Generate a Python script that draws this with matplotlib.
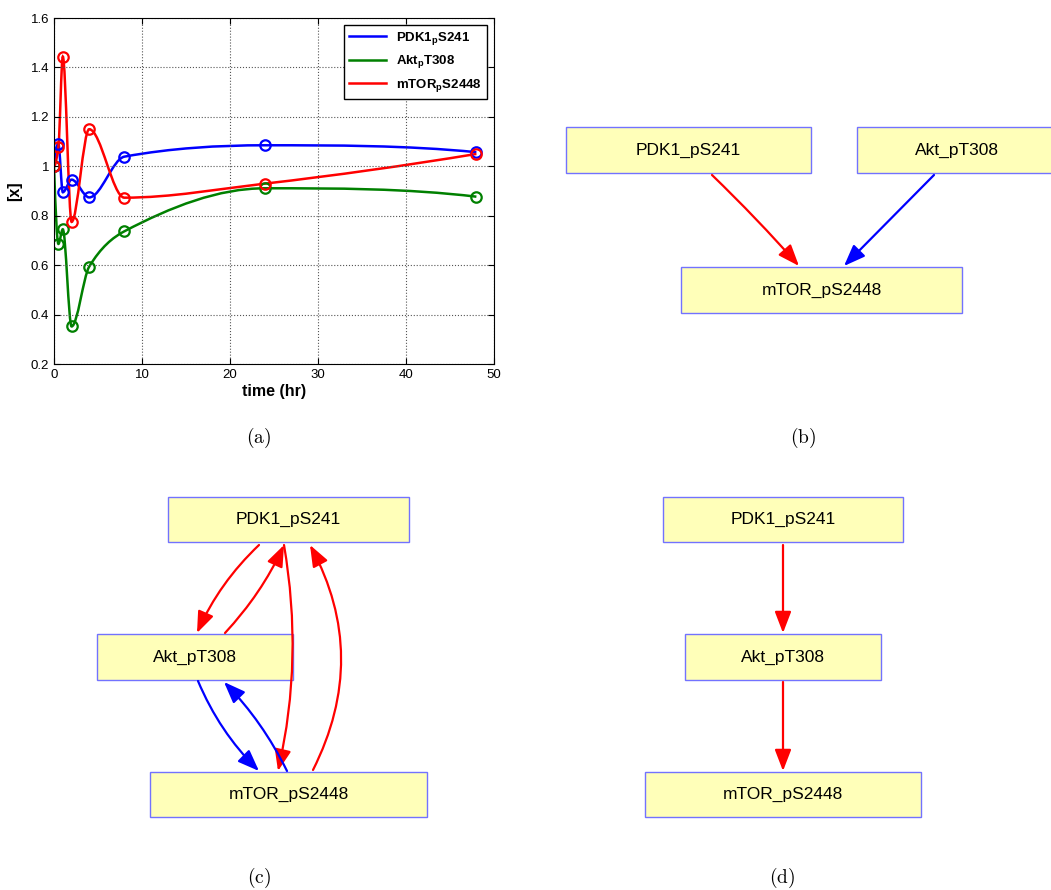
import numpy as np
import matplotlib
matplotlib.use("Agg")
import matplotlib.pyplot as plt
from matplotlib.path import Path
from matplotlib.patches import PathPatch, Rectangle, FancyArrowPatch
from matplotlib.lines import Line2D
from matplotlib.ticker import FormatStrFormatter

# --- data ---
time_hr = [0, 0.5, 1, 2, 4, 8, 24, 48]
pdk1 = [1.0, 1.09, 0.895, 0.946, 0.874, 1.039, 1.085, 1.057]
akt = [1.0, 0.686, 0.745, 0.352, 0.594, 0.737, 0.911, 0.877]
mtor = [1.0, 1.078, 1.444, 0.775, 1.150, 0.873, 0.930, 1.050]
series_labels = [r"$\mathbf{PDK1_pS241}$", r"$\mathbf{Akt_pT308}$", r"$\mathbf{mTOR_pS2448}$"]
series_colors = ["#0000ff", "#008000", "#ff0000"]

node_names = ["PDK1_pS241", "Akt_pT308", "mTOR_pS2448"]
# edges: (source, target, colour)
edges_b = [(0, 2, "red"), (1, 2, "blue")]
edges_c = [(0, 1, "red"), (1, 0, "red"), (0, 2, "red"), (2, 0, "red"), (1, 2, "blue"), (2, 1, "blue")]
edges_d = [(0, 1, "red"), (1, 2, "red")]
captions = ["(a)", "(b)", "(c)", "(d)"]

# --- layout (pixel coordinates, y down) ---
W, H = 1051, 890
boxes_b = {0: (566, 127, 811, 173), 1: (857, 127, 1057, 173), 2: (681, 267, 962, 313)}
boxes_c = {0: (168, 497, 409, 542), 1: (97, 634, 293, 680), 2: (150, 772, 427, 817)}
boxes_d = {0: (663, 497, 903, 542), 1: (685, 634, 881, 680), 2: (645, 772, 921, 817)}
# arrow end points and bend for each edge
arrows_b = [((712, 175), (799, 266), -0.02), ((934, 175), (844, 266), 0.0)]
arrows_c = [((259, 545), (197, 633), 0.10), ((225, 633), (284, 545), 0.08),
            ((284, 545), (278, 771), -0.10), ((313, 770), (310, 545), 0.26),
            ((198, 681), (259, 771), 0.10), ((287, 771), (224, 682), 0.08)]
arrows_d = [((783, 545), (783, 633), 0.0), ((783, 682), (783, 771), 0.0)]
caption_pos = [(259, 438), (803, 438), (259, 878), (782, 878)]

plt.rcParams["mathtext.fontset"] = "custom"
plt.rcParams["mathtext.rm"] = "Liberation Sans"
plt.rcParams["mathtext.it"] = "Liberation Sans:italic"
plt.rcParams["mathtext.bf"] = "Liberation Sans:bold"


def pchip_slopes(x, y):
    x = np.asarray(x, float)
    y = np.asarray(y, float)
    h = np.diff(x)
    dl = np.diff(y) / h
    n = len(x)
    d = np.zeros(n)
    for k in range(1, n - 1):
        if dl[k - 1] * dl[k] > 0:
            w1 = 2 * h[k] + h[k - 1]
            w2 = h[k] + 2 * h[k - 1]
            d[k] = (w1 + w2) / (w1 / dl[k - 1] + w2 / dl[k])

    def end(h0, h1, d0, d1):
        s = ((2 * h0 + h1) * d0 - h0 * d1) / (h0 + h1)
        if np.sign(s) != np.sign(d0):
            s = 0.0
        elif np.sign(d0) != np.sign(d1) and abs(s) > abs(3 * d0):
            s = 3 * d0
        return s

    d[0] = end(h[0], h[1], dl[0], dl[1])
    d[-1] = end(h[-1], h[-2], dl[-1], dl[-2])
    return d


def smooth_path(x, y):
    # piecewise cubic hermite drawn as bezier segments
    d = pchip_slopes(x, y)
    verts = [(x[0], y[0])]
    codes = [Path.MOVETO]
    for i in range(len(x) - 1):
        h = x[i + 1] - x[i]
        verts += [(x[i] + h / 3, y[i] + d[i] * h / 3),
                  (x[i + 1] - h / 3, y[i + 1] - d[i + 1] * h / 3),
                  (x[i + 1], y[i + 1])]
        codes += [Path.CURVE4] * 3
    return Path(verts, codes)


fig = plt.figure(figsize=(W / 100, H / 100), dpi=100)

# background axes in pixel units for diagrams and captions
bg = fig.add_axes([0, 0, 1, 1])
bg.set_xlim(0, W)
bg.set_ylim(H, 0)
bg.axis("off")


def draw_graph(boxes, edges, arrows):
    for i, (x0, y0, x1, y1) in boxes.items():
        bg.add_patch(Rectangle((x0, y0), x1 - x0, y1 - y0, facecolor="#ffffb9",
                               edgecolor="#7272ff", lw=1.0, zorder=2))
        bg.text((x0 + x1) / 2, (y0 + y1) / 2, node_names[i], ha="center", va="center",
                fontsize=12.5, family="Liberation Sans", zorder=3)
    for (s, t, col), (p0, p1, rad) in zip(edges, arrows):
        bg.add_patch(FancyArrowPatch(p0, p1, connectionstyle=f"arc3,rad={rad}",
                                     arrowstyle="-|>,head_length=0.65,head_width=0.25",
                                     mutation_scale=20, color=col, lw=1.6,
                                     shrinkA=0, shrinkB=0, zorder=4))


draw_graph(boxes_b, edges_b, arrows_b)
draw_graph(boxes_c, edges_c, arrows_c)
draw_graph(boxes_d, edges_d, arrows_d)

for cap, (cx, cy) in zip(captions, caption_pos):
    bg.text(cx, cy, r"$\mathrm{" + cap + "}$", ha="center", va="center", fontsize=14,
            math_fontfamily="cm")

# time course plot (a)
ax = fig.add_axes([54 / W, 1 - 364 / H, 440 / W, 346 / H])
for vals, col in zip([pdk1, akt, mtor], series_colors):
    ax.add_patch(PathPatch(smooth_path(time_hr, vals), facecolor="none", edgecolor=col, lw=1.8))
    ax.plot(time_hr, vals, "o", mfc="none", mec=col, mew=1.6, ms=7.5)

ax.set_xlim(0, 50)
ax.set_ylim(0.2, 1.6)
ax.set_xticks(np.arange(0, 51, 10))
ax.set_yticks(np.arange(0.2, 1.61, 0.2))
ax.yaxis.set_major_formatter(FormatStrFormatter("%g"))
ax.tick_params(direction="in", top=True, right=True, length=4, labelsize=9.5)
for lab in ax.get_xticklabels() + ax.get_yticklabels():
    lab.set_family("Liberation Sans")
ax.grid(True, linestyle=":", color="#555555", lw=0.8)
ax.set_xlabel("time (hr)", fontsize=11.5, fontweight="bold", family="Liberation Sans", labelpad=2)
ax.set_ylabel("[x]", fontsize=11.5, fontweight="bold", family="Liberation Sans", labelpad=6)

handles = [Line2D([], [], color=c, lw=1.8) for c in series_colors]
leg = ax.legend(handles, series_labels, loc="upper right", fontsize=9.5, fancybox=False,
                edgecolor="black", framealpha=1, borderaxespad=0.5, handlelength=2.8,
                labelspacing=0.5)
leg.get_frame().set_linewidth(1.0)

fig.savefig("out.png", dpi=100)
